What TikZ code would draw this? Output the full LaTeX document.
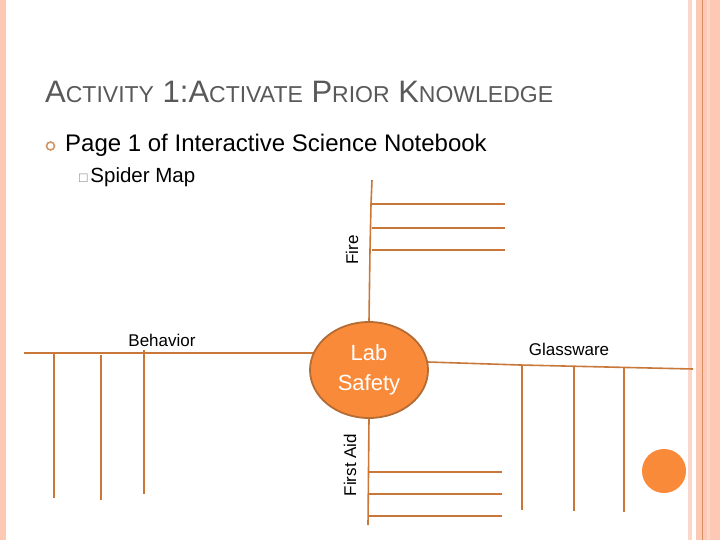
\documentclass[tikz,border=0pt]{standalone}
\usepackage{fontspec}
\setmainfont{Liberation Sans}
\usetikzlibrary{shapes.geometric}
\definecolor{org}{HTML}{C9783A}
\definecolor{fillo}{HTML}{F98A3A}
\definecolor{pinkb}{HTML}{FDC9B5}
\definecolor{pinkl}{HTML}{FBD7CA}
\definecolor{graytxt}{HTML}{595959}
\tikzset{ln/.style={draw=org,line width=1.6pt},
  lbl/.style={font=\fontsize{17}{20}\selectfont,inner sep=0pt}}
\begin{document}
\begin{tikzpicture}[x=1pt,y=-1pt]
\useasboundingbox (0,0) rectangle (720,540);
\fill[white] (0,0) rectangle (720,540);
% borders
\fill[pinkb] (0,0) rectangle (6,540);
\fill[pinkl] (688,0) rectangle (692,540);
\fill[pinkb] (696,0) rectangle (720,540);
\draw[org!70!pinkb,line width=0.8pt] (702,0) -- (702,540);
\fill[pinkl] (707,0) rectangle (710,540);
% title
\node[anchor=west,text=graytxt,inner sep=0pt] (title) at (45,92)
 {\fontsize{31}{34}\selectfont A{\fontsize{23}{26}\selectfont CTIVITY} 1:A{\fontsize{23}{26}\selectfont CTIVATE} P{\fontsize{23}{26}\selectfont RIOR} K{\fontsize{23}{26}\selectfont NOWLEDGE}};
\draw[org!80!white,line width=1.6pt] (50.5,146) circle (4);
\node[anchor=west,inner sep=0pt,font=\fontsize{24}{28}\selectfont] (p1) at (65,145) {Page 1 of Interactive Science Notebook};
\node[anchor=west,inner sep=0pt] (sm) at (79,177) {{\fontsize{14}{16}\selectfont\color{gray}\symbol{"25A1}}\ {\fontsize{20.5}{24}\selectfont Spider Map}};
% center
\node[ellipse,draw=org!90!black,line width=1.8pt,fill=fillo,minimum width=118,minimum height=96,inner sep=0pt,align=center,text=white,font=\fontsize{22}{30}\selectfont] (c) at (369,370) {Lab\\Safety};
% Fire
\coordinate (f0) at (372,180);
\draw[ln] (f0) -- (371,204) -- (370,250) -- (c.north);
\foreach \y in {204,228,250} \draw[ln] (372,\y) -- (505,\y);
\node[lbl,rotate=90] (fire) at (352,250) {Fire};
% Behavior
\draw[ln] (24,353) -- ([xshift=4pt,yshift=17pt]c.west);
\draw[ln] (54,354) -- (54,498);
\draw[ln] (101,355) -- (101,500);
\draw[ln] (144,350) -- (144,494);
\node[lbl] (beh) at (162,340) {Behavior};
% Glassware
\draw[ln] ([xshift=-1pt,yshift=8pt]c.east) -- (520,365) -- (693,369);
\draw[ln] (522,365) -- (522,510);
\draw[ln] (574,367) -- (574,511);
\draw[ln] (624,367) -- (624,512);
\node[lbl] (gl) at (569,349) {Glassware};
% First aid
\draw[ln] (c.south) -- (368,525);
\foreach \y in {472,494,516} \draw[ln] (368,\y) -- (502,\y);
\node[lbl,rotate=90] (fa) at (350,465) {First Aid};
% dot
\fill[fillo] (664,471) ellipse (22 and 22);
\end{tikzpicture}
\end{document}
